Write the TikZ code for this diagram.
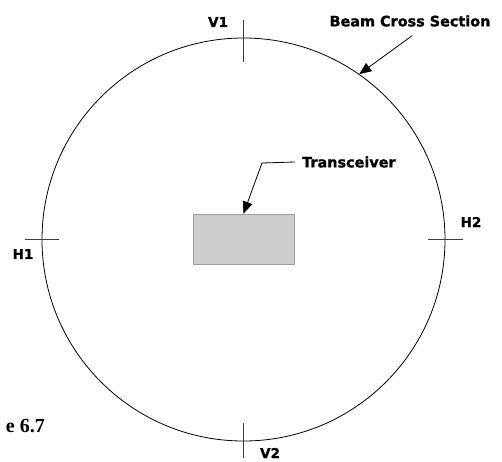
\documentclass[tikz,border=0pt]{standalone}
\usepackage{fontspec}
\newfontfamily\lblfont{DejaVu Sans}[BoldFeatures={FakeBold=1.3}]
\newfontfamily\figfont{Liberation Serif}
\usetikzlibrary{arrows.meta, positioning}
\definecolor{BoxGray}{RGB}{204, 204, 204}
\definecolor{BoxEdge}{RGB}{160, 160, 160}
\definecolor{TickGray}{RGB}{60, 60, 60}

\begin{document}
\begin{tikzpicture}[x=1pt, y=-1pt,
    tag/.style={font=\lblfont\bfseries\fontsize{13.5}{15}\selectfont, inner sep=0pt},
    callout/.style={font=\lblfont\bfseries\fontsize{14.4}{16}\selectfont, inner sep=0pt},
    pointer/.style={-{Triangle[length=12pt, width=10pt]}, line width=0.8pt},
    tick/.style={line width=0.8pt, TickGray}]
    \useasboundingbox (0,0) rectangle (502,461);

    % beam outline
    \node[circle, draw, line width=0.8pt, inner sep=0pt, minimum size=403pt] (beam)
        at (243.5, 239.5) {};

    % marks on the rim
    \draw[tick] ([yshift=18pt]beam.north) -- ([yshift=-24pt]beam.north);
    \draw[tick] ([yshift=18pt]beam.south) -- ([yshift=-17pt]beam.south);
    \draw[tick] ([xshift=-17pt]beam.west) -- ([xshift=17pt]beam.west);
    \draw[tick] ([xshift=-17pt]beam.east) -- ([xshift=18pt]beam.east);

    \node[tag] (v1) at (218, 22) {V1};
    \node[tag] (v2) at (270, 453) {V2};
    \node[tag] (h1) at (23, 254) {H1};
    \node[tag] (h2) at (471, 222) {H2};

    % transceiver in the middle
    \node[draw=BoxEdge, fill=BoxGray, line width=0.8pt, minimum width=101pt,
          minimum height=50pt, inner sep=0pt] (rx) at (243.5, 239) {};

    % callouts
    \node[callout] (beamlbl) at (410, 21) {Beam Cross Section};
    \draw[pointer] ([xshift=2pt, yshift=-9pt]beamlbl.south) -- (beam.55);

    \node[callout, anchor=west] (rxlbl) at (302, 162) {Transceiver};
    \coordinate (bend) at (262, 163);
    \draw[pointer] ([xshift=-7pt]rxlbl.west) -- (bend) -- (rx.north);

    \node[font=\figfont\bfseries\fontsize{20}{22}\selectfont, anchor=east,
          inner sep=0pt] (fig) at (45, 426) {e 6.7};
\end{tikzpicture}
\end{document}
